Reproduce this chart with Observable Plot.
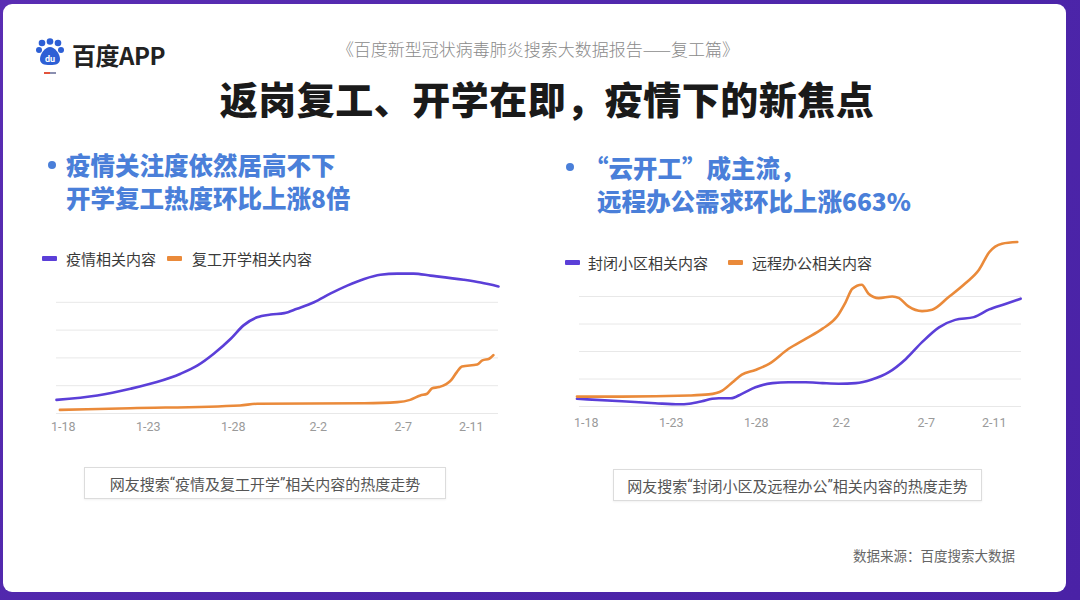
<!DOCTYPE html>
<html>
<head>
<meta charset="utf-8">
<script src="https://cdn.jsdelivr.net/npm/d3@7"></script>
<script src="https://cdn.jsdelivr.net/npm/@observablehq/plot@0.6"></script>
<style>
  html, body { margin: 0; padding: 0; }
  body { width: 1080px; height: 600px; position: relative; overflow: hidden;
         background: linear-gradient(135deg, #5a2db3 0%, #4c25a9 60%, #4a22a6 100%);
         font-family: "Noto Sans CJK SC", "Noto Sans", sans-serif; }
  .card { position: absolute; left: 3px; top: 4px; width: 1063px; height: 588px;
          background: #fff; border-radius: 9px; }
  .abs { position: absolute; white-space: nowrap; }
  .sub { left: 538px; top: 48px; transform: translate(-50%, -50%); font-size: 17px; color: #8a8a8a; font-weight: 300; }
  .title { left: 547px; top: 97px; transform: translate(-50%, -50%); font-size: 38px; color: #1a1a1a; font-weight: 900; letter-spacing: 0.5px; }
  .head { font-size: 24.5px; color: #4a7fd9; font-weight: 900; line-height: 33px; }
  .dot { width: 8px; height: 8px; border-radius: 50%; background: #4a7fd9; }
  .leg { font-size: 15px; color: #3a3a3a; }
  .sw { width: 15px; height: 5px; border-radius: 1px; }
  .cap { border: 1px solid #dcdcdc; box-shadow: 0 1px 2px rgba(0,0,0,0.06); font-size: 15px; color: #555;
         display: flex; align-items: center; justify-content: center; }
  .q { font-family: Roboto, "Noto Sans", sans-serif; }
  .src { font-size: 13.5px; color: #666; }
  .chart { position: absolute; }
</style>
</head>
<body>
<div class="card"></div>

<svg class="abs" style="left:35px;top:38px" width="30" height="40" viewBox="0 0 30 40">
  <circle cx="7" cy="5" r="3.3" fill="#2d5fd5"/>
  <circle cx="15" cy="3.5" r="3.3" fill="#2d5fd5"/>
  <circle cx="23" cy="5" r="3.3" fill="#2d5fd5"/>
  <circle cx="4" cy="12" r="3" fill="#2d5fd5"/>
  <circle cx="26" cy="12" r="3" fill="#2d5fd5"/>
  <path d="M15 9 C10 9 5 16 5 21 C5 26 9 27 15 27 C21 27 25 26 25 21 C25 16 20 9 15 9 Z" fill="#2d5fd5"/>
  <text x="15" y="24" text-anchor="middle" font-size="9" font-weight="700" fill="#fff" font-family="Roboto, sans-serif">du</text>
  <rect x="9" y="34" width="6" height="2" fill="#e2533c"/>
  <rect x="15" y="34" width="6" height="2" fill="#8a8fb0"/>
</svg>
<div class="abs" style="left:72px;top:40px;font-size:24px;font-weight:700;color:#222;letter-spacing:-0.5px;line-height:30px">百度APP</div>

<div class="abs sub">《百度新型冠状病毒肺炎搜索大数据报告——复工篇》</div>
<div class="abs title">返岗复工、开学在即，疫情下的新焦点</div>

<div class="abs dot" style="left:48px;top:161px"></div>
<div class="abs head" style="left:66px;top:148px">疫情关注度依然居高不下<br>开学复工热度环比上涨8倍</div>

<div class="abs dot" style="left:566px;top:163px"></div>
<div class="abs head" style="left:584px;top:151px">“云开工”成主流，<br><span style="margin-left:13px">远程办公需求环比上涨663%</span></div>

<div class="abs sw" style="left:42px;top:256px;background:#5b3fd8"></div>
<div class="abs leg" style="left:66px;top:248px">疫情相关内容</div>
<div class="abs sw" style="left:167px;top:256px;background:#ea8a3a"></div>
<div class="abs leg" style="left:192px;top:248px">复工开学相关内容</div>

<div class="abs sw" style="left:565px;top:260px;background:#5b3fd8"></div>
<div class="abs leg" style="left:588px;top:252px">封闭小区相关内容</div>
<div class="abs sw" style="left:728px;top:260px;background:#ea8a3a"></div>
<div class="abs leg" style="left:752px;top:252px">远程办公相关内容</div>

<div id="left" class="chart" style="left:30px;top:240px"></div>
<div id="right" class="chart" style="left:555px;top:220px"></div>

<div class="abs cap" style="left:84px;top:467px;width:360px;height:30px">网友搜索<span class="q">“</span>疫情及复工开学<span class="q">”</span>相关内容的热度走势</div>
<div class="abs cap" style="left:613px;top:469px;width:367px;height:30px">网友搜索<span class="q">“</span>封闭小区及远程办公<span class="q">”</span>相关内容的热度走势</div>

<div class="abs src" style="right:65px;top:545px">数据来源：百度搜索大数据</div>

<script>
// x positions: days after Jan 18 (1-18 = 0)
const tickDays = [0, 5, 10, 15, 20, 24];
const tickLabels = ["1-18", "1-23", "1-28", "2-2", "2-7", "2-11"];

// Left chart: 疫情相关内容
const epidemicDays = [-0.4, 2.0, 3.95, 5.5, 6.9, 7.9, 8.85, 9.85, 10.6, 11.4, 12.2, 13.0, 13.75, 14.75, 15.7, 16.7, 17.7, 18.65, 19.65, 20.6, 21.6, 23.55, 24.55, 25.6];
const epidemicValues = [0.49, 0.65, 0.89, 1.13, 1.43, 1.73, 2.15, 2.69, 3.17, 3.46, 3.56, 3.61, 3.77, 4.0, 4.31, 4.6, 4.84, 4.99, 5.03, 5.03, 4.96, 4.81, 4.71, 4.57];
// Left chart: 复工开学相关内容
const resumeDays = [-0.2, 3.95, 10.4, 11.4, 17.7, 19.65, 20.4, 21.0, 21.4, 21.7, 22.1, 22.8, 23.15, 23.45, 24.35, 24.65, 25.05, 25.3];
const resumeValues = [0.13, 0.19, 0.29, 0.35, 0.37, 0.41, 0.49, 0.65, 0.71, 0.91, 0.95, 1.19, 1.49, 1.69, 1.76, 1.91, 1.97, 2.1];

// Right chart: 封闭小区相关内容
const closedDays = [-0.55, 2.1, 4.05, 5.45, 6.05, 6.8, 7.4, 7.8, 8.5, 9.15, 9.95, 10.95, 11.9, 12.9, 13.9, 14.85, 15.85, 16.8, 17.8, 18.8, 19.75, 20.75, 21.7, 22.8, 23.7, 24.65, 25.55];
const closedValues = [0.28, 0.19, 0.12, 0.08, 0.1, 0.19, 0.28, 0.3, 0.3, 0.46, 0.7, 0.85, 0.88, 0.88, 0.85, 0.83, 0.85, 0.98, 1.25, 1.73, 2.34, 2.88, 3.15, 3.25, 3.53, 3.73, 3.92];
// Right chart: 远程办公相关内容
const remoteDays = [-0.55, 2.1, 6.05, 7.2, 8.0, 8.6, 9.15, 9.95, 10.75, 11.9, 12.9, 13.9, 14.75, 15.25, 15.65, 16.2, 16.6, 17.2, 18.0, 18.4, 18.95, 19.75, 20.35, 21.3, 22.3, 23.1, 23.7, 24.45, 25.35];
const remoteValues = [0.36, 0.36, 0.4, 0.44, 0.58, 0.88, 1.16, 1.33, 1.55, 2.1, 2.46, 2.83, 3.27, 3.79, 4.28, 4.43, 4.1, 3.94, 4.0, 3.94, 3.64, 3.47, 3.52, 3.97, 4.48, 4.97, 5.61, 5.92, 5.98];

const leftGrid = [0, 1, 2, 3, 4];
const rightGrid = [0, 1, 2, 3, 4];

const PURPLE = "#5b3fd8";
const ORANGE = "#ea8a3a";

const toRows = (days, values) => days.map((d, i) => ({day: d, value: values[i]}));

function makeChart({series, grid, yMax, width, height, marginLeft, marginRight, marginTop, marginBottom, tickPadding}) {
  return Plot.plot({
    width, height, marginLeft, marginRight, marginTop, marginBottom,
    style: {fontFamily: "Roboto, 'Noto Sans', sans-serif", fontSize: "12.5px", color: "#9a9a9a", background: "transparent", overflow: "visible"},
    x: {domain: [-0.4, 25.6], ticks: tickDays, tickFormat: d => tickLabels[tickDays.indexOf(d)], tickSize: 0, tickPadding, label: null},
    y: {domain: [0, yMax], axis: null},
    marks: [
      Plot.ruleY(grid, {stroke: "#e8e8e8", strokeWidth: 1}),
      ...series.map(s => Plot.line(toRows(s.days, s.values), {x: "day", y: "value", stroke: s.color, strokeWidth: 2.6, curve: "monotone-x"}))
    ]
  });
}

document.getElementById("left").appendChild(makeChart({
  series: [
    {days: resumeDays, values: resumeValues, color: ORANGE},
    {days: epidemicDays, values: epidemicValues, color: PURPLE}
  ],
  grid: leftGrid, yMax: 5,
  width: 480, height: 200, marginLeft: 26, marginRight: 12, marginTop: 34, marginBottom: 27, tickPadding: 9
}));

document.getElementById("right").appendChild(makeChart({
  series: [
    {days: closedDays, values: closedValues, color: PURPLE},
    {days: remoteDays, values: remoteValues, color: ORANGE}
  ],
  grid: rightGrid, yMax: 6,
  width: 480, height: 210, marginLeft: 24, marginRight: 14, marginTop: 21, marginBottom: 24, tickPadding: 12
}));
</script>
</body>
</html>
